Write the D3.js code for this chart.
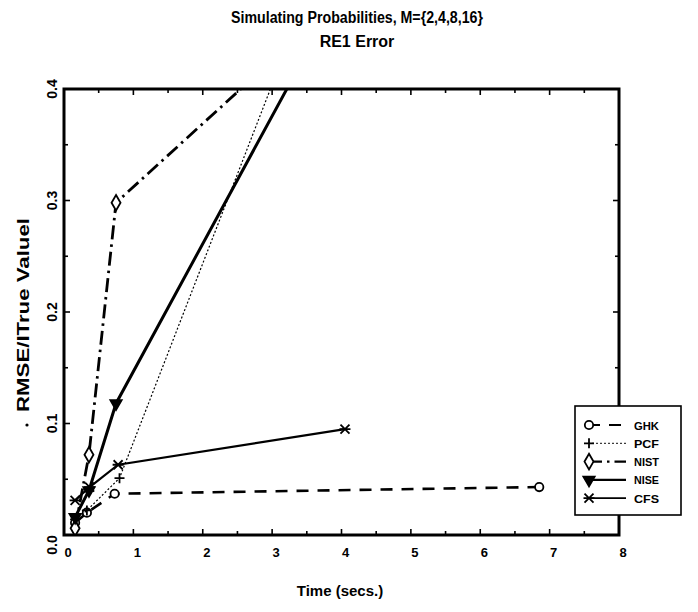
<!DOCTYPE html>
<html>
<head>
<meta charset="utf-8">
<script src="https://cdn.jsdelivr.net/npm/d3@7"></script>
<style>
  body { margin: 0; background: #fff; }
  svg { font-family: "Liberation Sans", Arial, sans-serif; }
</style>
</head>
<body>
<svg id="drawing_region"></svg>
<script>
// data
const seriesNames = ['GHK', 'PCF', 'NIST', 'NISE', 'CFS'];
const ghkTime  = [0.16, 0.33, 0.73, 6.85];
const ghkErr   = [0.011, 0.020, 0.037, 0.043];
const pcfTime  = [0.16, 0.33, 0.80, 3.2];
const pcfErr   = [0.014, 0.022, 0.051, 0.436];
const nistTime = [0.16, 0.36, 0.75, 2.9];
const nistErr  = [0.006, 0.072, 0.298, 0.42];
const niseTime = [0.16, 0.36, 0.75, 3.5];
const niseErr  = [0.016, 0.040, 0.118, 0.433];
const cfsTime  = [0.16, 0.37, 0.78, 4.05];
const cfsErr   = [0.031, 0.043, 0.063, 0.095];
const xTicks = [0, 1, 2, 3, 4, 5, 6, 7, 8];
const yTicks = [0.0, 0.1, 0.2, 0.3, 0.4];
const yTickLabels = ['0.0', '0.1', '0.2', '0.3', '0.4'];

const series = [
    {name: 'GHK',  t: ghkTime,  e: ghkErr,  dash: '12,9',       width: 2.6, symbol: 'circle'},
    {name: 'PCF',  t: pcfTime,  e: pcfErr,  dash: '2,2',        width: 1.2, symbol: 'plus'},
    {name: 'NIST', t: nistTime, e: nistErr, dash: '14,5,2.5,5', width: 2.8, symbol: 'diamond'},
    {name: 'NISE', t: niseTime, e: niseErr, dash: null,         width: 3.0, symbol: 'tri'},
    {name: 'CFS',  t: cfsTime,  e: cfsErr,  dash: null,         width: 2.2, symbol: 'cross'}
];

const W = 698, H = 612;
const frame = {left: 64, right: 619, top: 89, bottom: 535};

const svg = d3.select('#drawing_region')
    .attr('width', W)
    .attr('height', H);

const x = d3.scaleLinear().domain([0, 8]).range([frame.left, frame.right]);
const y = d3.scaleLinear().domain([0, 0.4]).range([frame.bottom, frame.top]);

// titles
svg.append('text')
    .attr('x', 357).attr('y', 23)
    .attr('text-anchor', 'middle')
    .attr('font-size', 16).attr('font-weight', 'bold')
    .attr('textLength', 252).attr('lengthAdjust', 'spacingAndGlyphs')
    .text('Simulating Probabilities, M={2,4,8,16}');
svg.append('text')
    .attr('x', 357).attr('y', 47)
    .attr('text-anchor', 'middle')
    .attr('font-size', 16).attr('font-weight', 'bold')
    .text('RE1 Error');

// axis labels
svg.append('text')
    .attr('x', 340).attr('y', 596)
    .attr('text-anchor', 'middle')
    .attr('font-size', 15).attr('font-weight', 'bold')
    .text('Time (secs.)');
svg.append('text')
    .attr('transform', 'translate(29, 315) rotate(-90)')
    .attr('text-anchor', 'middle')
    .attr('font-size', 16).attr('font-weight', 'bold')
    .attr('textLength', 194).attr('lengthAdjust', 'spacingAndGlyphs')
    .text('RMSE/ITrue Valuel');
svg.append('circle')
    .attr('cx', 27).attr('cy', 425).attr('r', 1.6).attr('fill', '#000');

// ticks (inward) on all four sides
const xMinor = d3.range(0, 8.01, 0.5);
const yMinor = d3.range(0, 0.401, 0.05);
const axisG = svg.append('g').attr('stroke', '#000').attr('stroke-width', 1.6);
xMinor.forEach(v => {
    const len = Number.isInteger(v) ? 6 : 4;
    axisG.append('line').attr('x1', x(v)).attr('x2', x(v)).attr('y1', frame.bottom).attr('y2', frame.bottom - len);
    axisG.append('line').attr('x1', x(v)).attr('x2', x(v)).attr('y1', frame.top).attr('y2', frame.top + len);
});
yMinor.forEach(v => {
    const len = Math.abs(v * 10 - Math.round(v * 10)) < 1e-6 ? 6 : 4;
    axisG.append('line').attr('x1', frame.left).attr('x2', frame.left + len).attr('y1', y(v)).attr('y2', y(v));
    axisG.append('line').attr('x1', frame.right).attr('x2', frame.right - len).attr('y1', y(v)).attr('y2', y(v));
});

// tick labels
svg.append('g').selectAll('text')
    .data(xTicks)
    .enter()
    .append('text')
    .attr('x', d => x(d) + 4)
    .attr('y', 557)
    .attr('text-anchor', 'middle')
    .attr('font-size', 13).attr('font-weight', 'bold')
    .text(d => d);
svg.append('g').selectAll('text')
    .data(yTicks)
    .enter()
    .append('text')
    .attr('transform', (d, i) => `translate(57, ${y(d) + (i === 0 ? 10 : 0)}) rotate(-90)`)
    .attr('text-anchor', 'middle')
    .attr('font-size', 14).attr('font-weight', 'bold')
    .text((d, i) => yTickLabels[i]);

// clip to the frame
svg.append('clipPath').attr('id', 'frameClip')
    .append('rect').attr('x', frame.left).attr('y', frame.top)
    .attr('width', frame.right - frame.left).attr('height', frame.bottom - frame.top);

const line = d3.line().x(d => x(d[0])).y(d => y(d[1]));

const symbolPath = {
    circle: d3.symbol().type(d3.symbolCircle).size(55)(),
    diamond: d3.symbol().type(d3.symbolDiamond).size(70)(),
    tri: d3.symbol().type(d3.symbolTriangle).size(55)()
};

function drawMarker(g, s, cx, cy) {
    let d = symbolPath[s.symbol];
    if (s.symbol === 'plus') d = 'M-5,0H5M0,-5V5';
    if (s.symbol === 'cross') d = 'M-4.5,-4.5L4.5,4.5M-4.5,4.5L4.5,-4.5M-5.5,0H5.5';
    const m = g.append('path')
        .attr('d', d)
        .attr('transform', `translate(${cx},${cy})` + (s.symbol === 'tri' ? ' rotate(180)' : ''))
        .attr('stroke', '#000')
        .attr('stroke-width', 1.8);
    if (s.symbol === 'tri') m.attr('fill', '#000');
    else if (s.symbol === 'plus' || s.symbol === 'cross') m.attr('fill', 'none');
    else m.attr('fill', '#fff');
}

const plot = svg.append('g').attr('clip-path', 'url(#frameClip)');
series.forEach(s => {
    const pts = s.t.map((t, i) => [t, s.e[i]]);
    plot.append('path')
        .datum(pts)
        .attr('d', line)
        .attr('fill', 'none')
        .attr('stroke', '#000')
        .attr('stroke-width', s.width)
        .attr('stroke-dasharray', s.dash);
    pts.forEach(p => {
        if (p[1] <= 0.4) drawMarker(plot, s, x(p[0]), y(p[1]));
    });
});

// frame
svg.append('rect')
    .attr('x', frame.left).attr('y', frame.top)
    .attr('width', frame.right - frame.left).attr('height', frame.bottom - frame.top)
    .attr('fill', 'none').attr('stroke', '#000').attr('stroke-width', 3);

// legend
const lg = svg.append('g');
lg.append('rect')
    .attr('x', 575).attr('y', 406).attr('width', 106).attr('height', 109)
    .attr('fill', '#fff').attr('stroke', '#000').attr('stroke-width', 1.6);
seriesNames.forEach((name, i) => {
    const s = series[i];
    const ly = 425 + i * 18.3;
    lg.append('line')
        .attr('x1', 588).attr('x2', 626).attr('y1', ly).attr('y2', ly)
        .attr('stroke', '#000').attr('stroke-width', s.width * 0.8)
        .attr('stroke-dasharray', s.dash);
    drawMarker(lg, s, 589, ly);
    lg.append('text')
        .attr('x', 634).attr('y', ly + 4.5)
        .attr('font-size', 11).attr('font-weight', 'bold')
        .attr('textLength', 25).attr('lengthAdjust', 'spacingAndGlyphs')
        .text(name);
});
</script>
</body>
</html>
